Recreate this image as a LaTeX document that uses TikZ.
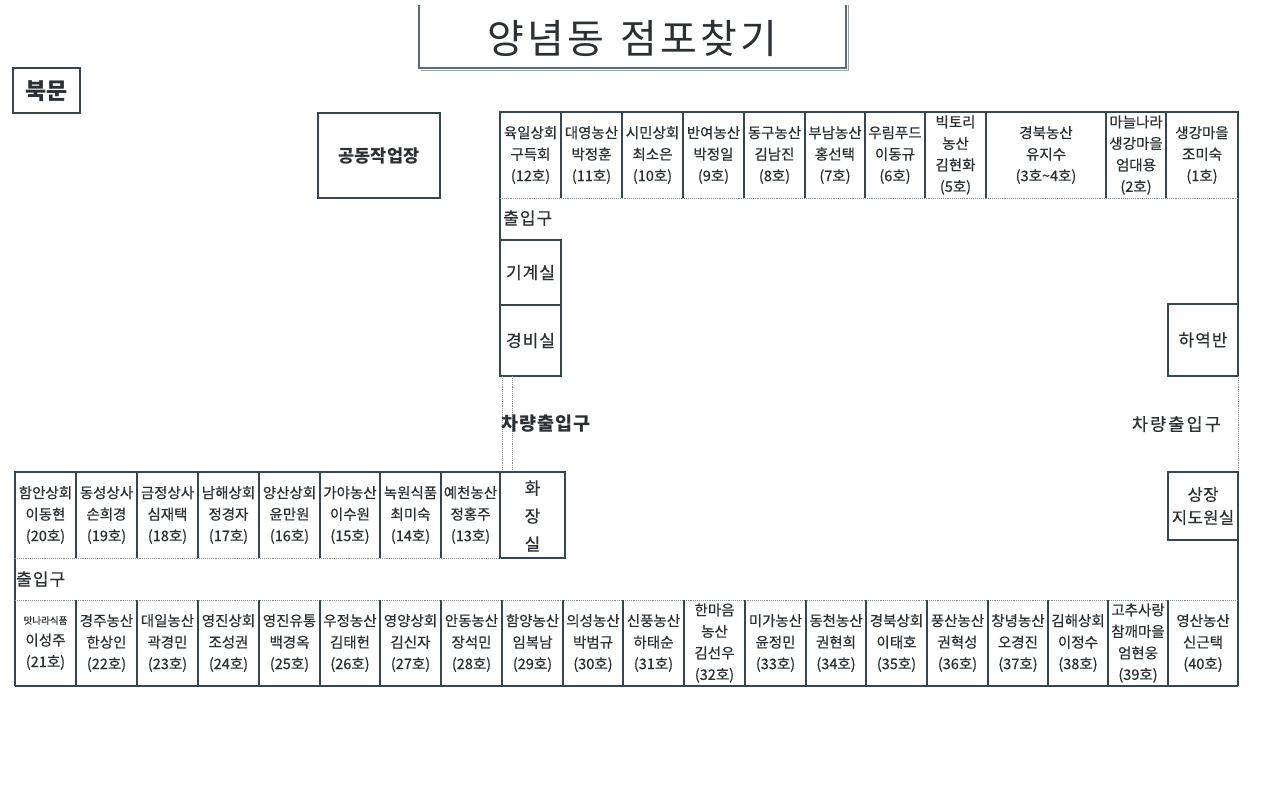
\documentclass[tikz,border=0pt]{standalone}
\usepackage{fontspec}
\setmainfont{Noto Sans CJK KR}
\definecolor{wallc}{HTML}{34464E}
\definecolor{txt}{HTML}{2A3033}
\definecolor{dotc}{HTML}{8A9094}
\newcommand\stallnode[6]{\node[cell] (#1) at ({(#2+#3)/2},{(#4+#5)/2}) {#6};}
\begin{document}
\begin{tikzpicture}[x=1pt,y=-1pt,
  wall/.style={line width=1.8pt, draw=wallc},
  sepline/.style={line width=1.5pt, draw=wallc},
  dotline/.style={densely dotted, line width=0.9pt, draw=dotc},
  cell/.style={inner sep=0pt, align=center, text=txt, font=\fontsize{14.5}{21.5}\selectfont\addfontfeature{FakeBold=0.5}},
  room/.style={inner sep=0pt, align=center, text=txt, font=\fontsize{17}{21}\selectfont\addfontfeature{LetterSpace=6,FakeBold=0.5}},
  boldroom/.style={inner sep=0pt, align=center, text=txt, font=\fontsize{17.5}{20}\selectfont\bfseries}]
\useasboundingbox (0,0) rectangle (1287,785);
\fill[white] (0,0) rectangle (1287,785);

% title
\draw[line width=1.5pt, draw=wallc!80] (419,5) -- (419,68) -- (846,68) -- (846,5);
\draw[line width=0.6pt, draw=wallc!50] (421,70) -- (848,70) -- (848,5);
\node[text=txt, font=\fontsize{40}{44}\selectfont\addfontfeature{LetterSpace=8}] (title) at (632,38) {양념동\hspace{16pt}점포찾기};

% north gate
\draw[wall] (13,68) rectangle (80,113);
\node[boldroom, font=\fontsize{23}{26}\selectfont\bfseries] (bukmun) at (46.5,91) {북문};

% workshop
\draw[wall] (318,113) rectangle (440,198);
\node[boldroom] (workshop) at (379,156) {공동작업장};

% top row
\draw[wall] (500,240) -- (500,112) -- (1238,112) -- (1238,376);
\foreach \xx in {561,622,683,744,805,865,925,986,1106,1166}
  \draw[sepline] (\xx,112) -- (\xx,198);
\draw[dotline] (500,198) -- (1238,198);
\stallnode{s12}{500}{561}{112}{198}{육일상회\\구득회\\(12호)}
\stallnode{s11}{561}{622}{112}{198}{대영농산\\박정훈\\(11호)}
\stallnode{s10}{622}{683}{112}{198}{시민상회\\최소은\\(10호)}
\stallnode{s9}{683}{744}{112}{198}{반여농산\\박정일\\(9호)}
\stallnode{s8}{744}{805}{112}{198}{동구농산\\김남진\\(8호)}
\stallnode{s7}{805}{865}{112}{198}{부남농산\\홍선택\\(7호)}
\stallnode{s6}{865}{925}{112}{198}{우림푸드\\이동규\\(6호)}
\stallnode{s5}{925}{986}{112}{198}{빅토리\\농산\\김현화\\(5호)}
\stallnode{s34}{986}{1106}{112}{198}{경북농산\\유지수\\(3호{\char"7E}4호)}
\stallnode{s2}{1106}{1166}{112}{198}{마늘나라\\생강마을\\엄대용\\(2호)}
\stallnode{s1}{1166}{1238}{112}{198}{생강마을\\조미숙\\(1호)}

\node[room, anchor=west] (ent1) at (503,218) {출입구};

% rooms on the left side
\draw[wall] (500,240) rectangle (561,305);
\draw[wall] (500,305) rectangle (561,376);
\node[room] (machine) at (530.5,272.5) {기계실};
\node[room] (guard) at (530.5,340.5) {경비실};
\draw[dotline] (502,376) -- (502,472);
\draw[dotline] (512,376) -- (512,472);
\node[boldroom, font=\fontsize{18.5}{20}\selectfont\bfseries\addfontfeature{LetterSpace=6}, anchor=west] (car1) at (501,424) {차량출입구};
\node[room, font=\fontsize{17.5}{21}\selectfont\addfontfeature{LetterSpace=12,FakeBold=0.5}, anchor=east] (car2) at (1221,424) {차량출입구};

% right side rooms
\draw[wall] (1168,304) rectangle (1238,376);
\node[room] (hayeok) at (1203,340) {하역반};
\draw[dotline] (1238,376) -- (1238,472);
\draw[wall] (1168,472) rectangle (1238,540);
\node[room, font=\fontsize{16.5}{23}\selectfont\addfontfeature{LetterSpace=3,FakeBold=0.5}] (sangjang) at (1203,506) {상장\\지도원실};
\draw[wall] (1238,472) -- (1238,686);

% left row
\draw[wall] (15,686) -- (15,472) -- (500,472);
\foreach \xx in {76,137,198,259,320,380,441}
  \draw[sepline] (\xx,472) -- (\xx,558);
\draw[wall, line width=2.2pt] (500,472) rectangle (565,558);
\draw[dotline] (15,558) -- (500,558);
\stallnode{s20}{15}{76}{472}{558}{함안상회\\이동현\\(20호)}
\stallnode{s19}{76}{137}{472}{558}{동성상사\\손희경\\(19호)}
\stallnode{s18}{137}{198}{472}{558}{금정상사\\심재택\\(18호)}
\stallnode{s17}{198}{259}{472}{558}{남해상회\\정경자\\(17호)}
\stallnode{s16}{259}{320}{472}{558}{양산상회\\윤만원\\(16호)}
\stallnode{s15}{320}{380}{472}{558}{가야농산\\이수원\\(15호)}
\stallnode{s14}{380}{441}{472}{558}{녹원식품\\최미숙\\(14호)}
\stallnode{s13}{441}{500}{472}{558}{예천농산\\정홍주\\(13호)}
\node[room, font=\fontsize{17}{28}\selectfont\addfontfeature{FakeBold=0.5}] (toilet) at (532.5,516) {화\\장\\실};

\node[room, anchor=west] (ent2) at (16,579) {출입구};

% bottom row
\draw[dotline] (15,600) -- (1238,600);
\foreach \xx in {76,137,198,259,320,380,441,502,563,623,684,745,806,866,927,988,1048,1108,1168}
  \draw[sepline] (\xx,600) -- (\xx,686);
\draw[wall, line width=2.6pt] (15,686) -- (1238,686);
\stallnode{s21}{15}{76}{600}{686}{{\fontsize{9.5}{21.5}\selectfont 맛나라식품}\\이성주\\(21호)}
\stallnode{s22}{76}{137}{600}{686}{경주농산\\한상인\\(22호)}
\stallnode{s23}{137}{198}{600}{686}{대일농산\\곽경민\\(23호)}
\stallnode{s24}{198}{259}{600}{686}{영진상회\\조성권\\(24호)}
\stallnode{s25}{259}{320}{600}{686}{영진유통\\백경옥\\(25호)}
\stallnode{s26}{320}{380}{600}{686}{우정농산\\김태헌\\(26호)}
\stallnode{s27}{380}{441}{600}{686}{영양상회\\김신자\\(27호)}
\stallnode{s28}{441}{502}{600}{686}{안동농산\\장석민\\(28호)}
\stallnode{s29}{502}{563}{600}{686}{함양농산\\임복남\\(29호)}
\stallnode{s30}{563}{623}{600}{686}{의성농산\\박범규\\(30호)}
\stallnode{s31}{623}{684}{600}{686}{신풍농산\\하태순\\(31호)}
\stallnode{s32}{684}{745}{600}{686}{한마음\\농산\\김선우\\(32호)}
\stallnode{s33}{745}{806}{600}{686}{미가농산\\윤정민\\(33호)}
\stallnode{s34b}{806}{866}{600}{686}{동천농산\\권현희\\(34호)}
\stallnode{s35}{866}{927}{600}{686}{경북상회\\이태호\\(35호)}
\stallnode{s36}{927}{988}{600}{686}{풍산농산\\권혁성\\(36호)}
\stallnode{s37}{988}{1048}{600}{686}{창녕농산\\오경진\\(37호)}
\stallnode{s38}{1048}{1108}{600}{686}{김해상회\\이정수\\(38호)}
\stallnode{s39}{1108}{1168}{600}{686}{고추사랑\\참깨마을\\엄현웅\\(39호)}
\stallnode{s40}{1168}{1238}{600}{686}{영산농산\\신근택\\(40호)}
\end{tikzpicture}
\end{document}
